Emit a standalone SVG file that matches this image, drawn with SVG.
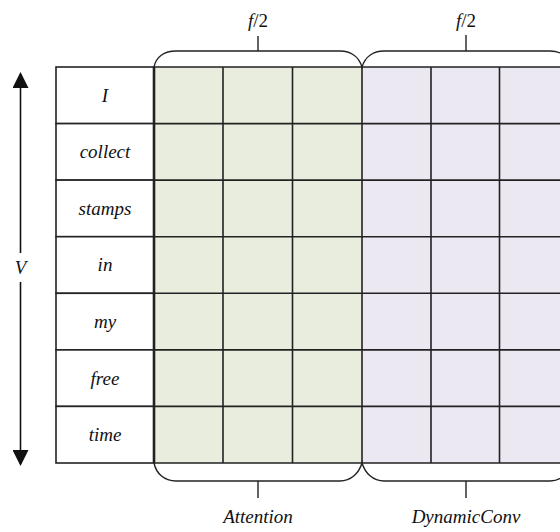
<svg xmlns="http://www.w3.org/2000/svg" width="560" height="532" viewBox="0 0 560 532">
<defs>
<style>
.g{fill:#e9eddd}
.p{fill:#ebe8f1}
.ln{stroke:#222;stroke-width:1.6;fill:none}
.br{stroke:#222;stroke-width:1.4;fill:none}
.w{font-family:"Liberation Serif",serif;font-style:italic;font-size:19px;fill:#111;text-anchor:middle}
.cell{fill:#fff;stroke:#222;stroke-width:1.6}
</style>
<marker id="ah" viewBox="0 0 16 16" refX="14" refY="8" markerWidth="16" markerHeight="16" markerUnits="userSpaceOnUse" orient="auto">
<path d="M0,0 L16,8 L0,16 Z" fill="#111"/>
</marker>
</defs>
<rect width="560" height="532" fill="#fff"/>
<g id="attention-block">
<rect class="g" x="154" y="67" width="208" height="396"/>
</g>
<g id="dynamicconv-block">
<rect class="p" x="362" y="67" width="210" height="396"/>
</g>
<g id="grid">
<path class="ln" d="M154,67H572M154,123.6H572M154,180.1H572M154,236.7H572M154,293.3H572M154,349.9H572M154,406.4H572M154,463H572"/>
<path class="ln" d="M223,67V463M292.5,67V463M362,67V463M431,67V463M499.5,67V463"/>
</g>
<g id="word-I"><rect class="cell" x="56" y="67" width="98" height="56.6"/><text class="w" x="105" y="101.7">I</text></g>
<g id="word-collect"><rect class="cell" x="56" y="123.6" width="98" height="56.5"/><text class="w" x="105" y="158.3">collect</text></g>
<g id="word-stamps"><rect class="cell" x="56" y="180.1" width="98" height="56.6"/><text class="w" x="105" y="214.8">stamps</text></g>
<g id="word-in"><rect class="cell" x="56" y="236.7" width="98" height="56.6"/><text class="w" x="105" y="271.4">in</text></g>
<g id="word-my"><rect class="cell" x="56" y="293.3" width="98" height="56.6"/><text class="w" x="105" y="328">my</text></g>
<g id="word-free"><rect class="cell" x="56" y="349.9" width="98" height="56.5"/><text class="w" x="105" y="384.5">free</text></g>
<g id="word-time"><rect class="cell" x="56" y="406.4" width="98" height="56.6"/><text class="w" x="105" y="441.1">time</text></g>
<line x1="154" y1="67" x2="154" y2="463" stroke="#222" stroke-width="2.6"/>
<g id="connectors">
<path class="br" d="M154,67 C156,57 164,51 176,51 L340,51 C351,51 359,57 362,67 C365,57 373,51 384,51 L550,51 C561,51 569,57 572,67"/>
<path class="br" d="M258,36V51M466,35V51"/>
<path class="br" d="M154,463 C156,473 164,481 176,481 L340,481 C351,481 359,473 362,463 C365,473 373,481 384,481 L550,481 C561,481 569,473 572,463"/>
<path class="br" d="M258,481V498M466,481V498"/>
<line x1="20.5" y1="253" x2="20.5" y2="74" stroke="#111" stroke-width="1.6" marker-end="url(#ah)"/>
<line x1="20.5" y1="282" x2="20.5" y2="464" stroke="#111" stroke-width="1.6" marker-end="url(#ah)"/>
</g>
<g id="labels">
<text class="w" x="258" y="27"><tspan>f</tspan><tspan font-style="normal">/2</tspan></text>
<text class="w" x="466" y="27"><tspan>f</tspan><tspan font-style="normal">/2</tspan></text>
<text class="w" x="20.5" y="274">V</text>
<text class="w" x="258" y="523">Attention</text>
<text class="w" x="466" y="523">DynamicConv</text>
</g>
</svg>
